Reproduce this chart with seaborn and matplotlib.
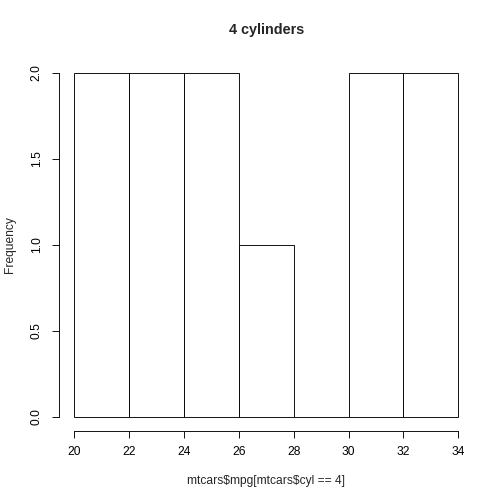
import matplotlib
matplotlib.use("Agg")
import matplotlib.pyplot as plt
import seaborn as sns
import numpy as np

# Data: histogram of mtcars mpg for 4-cylinder cars (R right-closed bins)
bin_edges = [20, 22, 24, 26, 28, 30, 32, 34]
counts = [2, 2, 2, 1, 0, 2, 2]
x_ticks = [20, 22, 24, 26, 28, 30, 32, 34]
y_ticks = [0.0, 0.5, 1.0, 1.5, 2.0]
y_tick_labels = ["0.0", "0.5", "1.0", "1.5", "2.0"]
title = "4 cylinders"
xlabel = "mtcars$mpg[mtcars$cyl == 4]"
ylabel = "Frequency"

sns.set_style("white")
plt.rcParams['font.family'] = ['Liberation Sans', 'DejaVu Sans']

W = H = 504
fig = plt.figure(figsize=(7, 7), dpi=72)
left, right, bottom, top = 59.0, 473.6, 430.6, 59.0
ax = fig.add_axes([left / W, 1 - bottom / H, (right - left) / W, (bottom - top) / H])

mids = [(bin_edges[i] + bin_edges[i + 1]) / 2 for i in range(len(counts))]
sns.histplot(x=mids, weights=counts, bins=bin_edges, ax=ax,
             color="white", edgecolor="black", linewidth=0.9, alpha=1.0)

ax.set_xlim(19.44, 34.56)
ax.set_ylim(-0.08, 2.08)
for s in ["top", "right"]:
    ax.spines[s].set_visible(False)
ax.spines["left"].set_bounds(0, 2)
ax.spines["bottom"].set_bounds(20, 34)
for s in ["left", "bottom"]:
    ax.spines[s].set_color("black")
    ax.spines[s].set_linewidth(0.9)

ax.set_xticks(x_ticks)
ax.set_xticklabels([str(t) for t in x_ticks])
ax.set_yticks(y_ticks)
ax.set_yticklabels(y_tick_labels, rotation=90, va="center")
ax.tick_params(axis="both", which="major", direction="out", length=7.2, width=0.9,
               color="black", labelsize=12, labelcolor="black", left=True, bottom=True)
ax.tick_params(axis="x", pad=8)
ax.tick_params(axis="y", pad=9)
ax.set_xlabel("")
ax.set_ylabel("")

fig.text(0.5 * (left + right) / W, 1 - 30 / H, title, ha="center", va="center",
         fontsize=14.4, fontweight="bold")
fig.text(0.5 * (left + right) / W, 1 - 481 / H, xlabel, ha="center", va="center",
         fontsize=12, parse_math=False)
fig.text(10 / W, 1 - 0.5 * (top + bottom) / H, ylabel, ha="center", va="center",
         fontsize=12, rotation=90)

fig.savefig("out.png", dpi=72)
